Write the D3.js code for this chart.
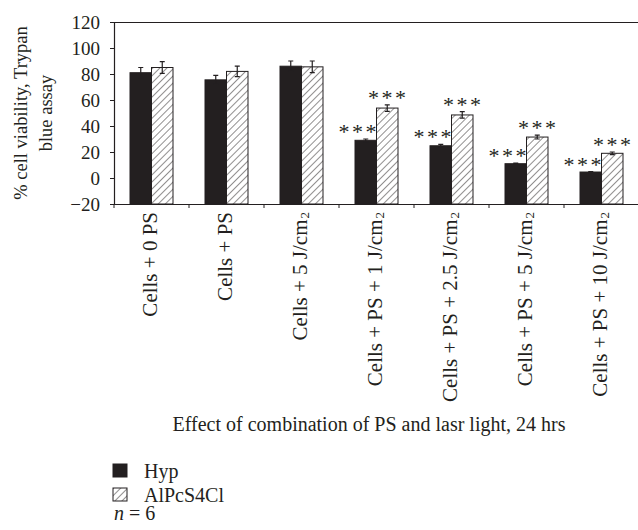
<!DOCTYPE html>
<html>
<head>
<meta charset="utf-8">
<script src="https://cdn.jsdelivr.net/npm/d3@7"></script>
<style>
  body { margin: 0; background: #fff; }
  svg text { font-family: "Liberation Serif", "Times New Roman", serif; fill: #231f20; }
</style>
</head>
<body>
<svg width="638" height="530"></svg>
<script>
const categories = ["Cells + 0 PS", "Cells + PS", "Cells + 5 J/cm", "Cells + PS + 1 J/cm", "Cells + PS + 2.5 J/cm", "Cells + PS + 5 J/cm", "Cells + PS + 10 J/cm"]
const superscripts = ["", "", "2", "2", "2", "2", "2"]
const seriesNames = ["Hyp", "AlPcS4Cl"]
const hypValues = [81, 75.5, 86, 29, 24.8, 11, 4.6]
const hypErrors = [4, 3.5, 4, 1, 1, 0.5, 0.4]
const alpcValues = [85, 82, 85.5, 53.8, 48.5, 31.5, 19]
const alpcErrors = [4.5, 4, 4.5, 2.5, 2.5, 1.5, 1]
const hypStars = [false, false, false, true, true, true, true]
const alpcStars = [false, false, false, true, true, true, true]
const yTicks = [-20, 0, 20, 40, 60, 80, 100, 120]

const ink = "#231f20"
const margin = {top: 22, left: 114}
const width = 638

const svg = d3.select("svg")

const defs = svg.append("defs")
defs.append("pattern")
  .attr("id", "hatch")
  .attr("patternUnits", "userSpaceOnUse")
  .attr("width", 5).attr("height", 5)
  .attr("patternTransform", "rotate(45)")
  .call(p => p.append("rect").attr("width", 5).attr("height", 5).attr("fill", "#fff"))
  .call(p => p.append("line").attr("x1", 0).attr("y1", 0).attr("x2", 0).attr("y2", 5)
    .attr("stroke", ink).attr("stroke-width", 1))

const x = d3.scaleBand()
  .domain(categories)
  .range([margin.left, 639])
  .paddingInner(0).paddingOuter(0)

const xInner = d3.scaleBand()
  .domain(seriesNames)
  .range([16, 59])
  .padding(0)

const y = d3.scaleLinear()
  .domain([-20, 120])
  .range([204, margin.top])

const rows = categories.map((c, i) => ({
  cat: c,
  bars: [
    {series: "Hyp", value: hypValues[i], err: hypErrors[i], stars: hypStars[i], shift: -8},
    {series: "AlPcS4Cl", value: alpcValues[i], err: alpcErrors[i], stars: alpcStars[i], shift: 0}
  ]
}))

// frame top line
svg.append("line")
  .attr("x1", margin.left).attr("x2", width)
  .attr("y1", y(120) + 0.5).attr("y2", y(120) + 0.5)
  .attr("stroke", ink).attr("stroke-width", 1.2)

// y axis
const yAxis = svg.append("g")
  .attr("transform", `translate(${margin.left},0)`)
  .call(d3.axisLeft(y).tickValues(yTicks).tickSize(4).tickPadding(10).tickFormat(d => d < 0 ? "\u2212" + Math.abs(d) : d))
yAxis.select(".domain").attr("stroke", ink).attr("stroke-width", 1.2)
yAxis.selectAll(".tick line").attr("stroke", ink)
yAxis.selectAll(".tick text").style("font-size", "19px").attr("fill", ink)
  .style("font-family", "'Liberation Serif', serif")

// bars
const groups = svg.selectAll("g.group")
  .data(rows)
  .join("g").classed("group", true)
  .attr("transform", d => `translate(${x(d.cat)},0)`)

groups.selectAll("rect")
  .data(d => d.bars)
  .join("rect")
  .attr("x", d => xInner(d.series))
  .attr("y", d => y(d.value))
  .attr("width", xInner.bandwidth())
  .attr("height", d => y(-20) - y(d.value))
  .attr("fill", d => d.series == "Hyp" ? ink : "url(#hatch)")
  .attr("stroke", ink)
  .attr("stroke-width", 1)

// error bars
groups.selectAll("path.err")
  .data(d => d.bars)
  .join("path").classed("err", true)
  .attr("d", d => {
    const cx = xInner(d.series) + xInner.bandwidth() / 2
    const t = y(d.value + d.err), b = y(d.value - d.err)
    return `M${cx - 2.5},${t}H${cx + 2.5}M${cx},${t}V${b}M${cx - 2.5},${b}H${cx + 2.5}`
  })
  .attr("stroke", ink)
  .attr("stroke-width", 1.2)
  .attr("fill", "none")

// significance stars
groups.selectAll("text.stars")
  .data(d => d.bars.filter(b => b.stars))
  .join("text").classed("stars", true)
  .attr("x", d => xInner(d.series) + xInner.bandwidth() / 2 + d.shift + 1)
  .attr("y", d => y(d.value + d.err))
  .attr("text-anchor", "middle")
  .style("font-size", "22px")
  .style("letter-spacing", "2.5px")
  .attr("fill", "#444")
  .text("***")

// x axis
const xAxis = svg.append("g")
  .attr("transform", `translate(0,${y(-20)})`)
  .call(d3.axisBottom(x).tickSize(0).tickFormat(""))
xAxis.select(".domain").attr("stroke", ink).attr("stroke-width", 1.2)
xAxis.selectAll(".tick").remove()

svg.append("g")
  .selectAll("line")
  .data(d3.range(categories.length + 1))
  .join("line")
  .attr("x1", i => margin.left + i * x.bandwidth())
  .attr("x2", i => margin.left + i * x.bandwidth())
  .attr("y1", y(-20)).attr("y2", y(-20) + 4)
  .attr("stroke", ink)

// category labels
const labels = svg.append("g")
  .selectAll("text")
  .data(categories)
  .join("text")
  .attr("transform", d => `translate(${x(d) + x.bandwidth() / 2 + 5.5},212) rotate(-90)`)
  .attr("text-anchor", "end")
  .style("font-size", "21px")

labels.append("tspan").text(d => d)
labels.append("tspan")
  .attr("dy", 1.5)
  .attr("dx", 1)
  .style("font-size", "13px")
  .text((d, i) => superscripts[i])

// axis titles
svg.append("text")
  .attr("x", 369).attr("y", 431)
  .attr("text-anchor", "middle")
  .style("font-size", "20px")
  .text("Effect of combination of PS and lasr light, 24 hrs")

svg.append("text")
  .attr("transform", `translate(27,${(y(120) + y(-20)) / 2}) rotate(-90)`)
  .attr("text-anchor", "middle")
  .style("font-size", "18.5px")
  .call(t => t.append("tspan").attr("x", 0).attr("y", 0).text("% cell viability, Trypan"))
  .call(t => t.append("tspan").attr("x", 0).attr("y", 25).text("blue assay"))

// legend
const legend = svg.append("g").attr("transform", "translate(113,464)")
legend.selectAll("g")
  .data(seriesNames)
  .join("g")
  .attr("transform", (d, i) => `translate(0,${i * 24})`)
  .call(g => g.append("rect")
    .attr("width", 14).attr("height", 13)
    .attr("fill", d => d == "Hyp" ? ink : "url(#hatch)")
    .attr("stroke", ink).attr("stroke-width", 1))
  .call(g => g.append("text")
    .attr("x", 31).attr("y", 14)
    .style("font-size", "20px")
    .text(d => d))

legend.append("text")
  .attr("x", 1).attr("y", 56)
  .style("font-size", "20px")
  .call(t => t.append("tspan").style("font-style", "italic").text("n"))
  .call(t => t.append("tspan").text(" = 6"))
</script>
</body>
</html>
